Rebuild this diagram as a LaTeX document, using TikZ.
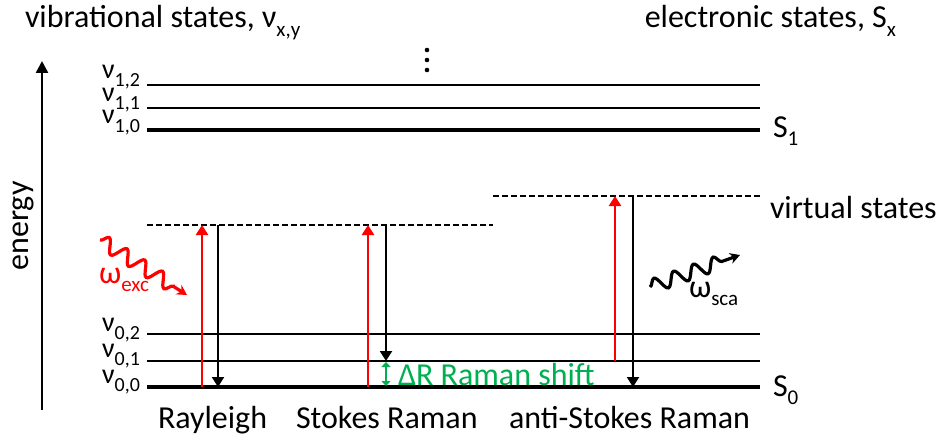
\documentclass[tikz,border=0pt]{standalone}
\usepackage{fontspec}
\setmainfont{Carlito}
\usetikzlibrary{arrows.meta,decorations.pathmorphing}
\definecolor{excred}{RGB}{255,0,0}
\definecolor{shiftgreen}{RGB}{0,176,80}
\newcommand\lo[1]{\raisebox{-0.27em}[0pt][0pt]{\fontsize{21}{22}\selectfont #1}}
\newcommand\lvlsub[1]{\raisebox{-0.3em}[0pt][0pt]{\fontsize{20}{22}\selectfont #1}}
\begin{document}
\begin{tikzpicture}[x=1pt,y=-1pt,
  every node/.style={inner sep=0pt,outer sep=0pt,font=\fontsize{32}{36}\selectfont},
  lvllabel/.style={anchor=base east,font=\fontsize{28}{30}\selectfont},
  lvl/.style={line width=2.2pt},
  lvlthick/.style={line width=3.5pt},
  virt/.style={line width=2pt,dash pattern=on 6pt off 3pt},
  tip/.style={-{Triangle[length=10pt,width=12pt]}},
  up/.style={tip,excred,line width=2.6pt},
  down/.style={tip,black,line width=2.2pt},
  wave/.style={line width=3.2pt,decorate,
     decoration={snake,amplitude=7pt,segment length=21pt,post length=9pt},
     -{Stealth[length=10pt,width=11pt]}}]
\useasboundingbox (0,0) rectangle (943,444);

% level end points
\coordinate (l12a) at (147,85);  \coordinate (l12b) at (760,85);
\coordinate (l11a) at (147,108); \coordinate (l11b) at (760,108);
\coordinate (l10a) at (147,130); \coordinate (l10b) at (760,130);
\coordinate (l02a) at (147,334); \coordinate (l02b) at (760,334);
\coordinate (l01a) at (147,361); \coordinate (l01b) at (760,361);
\coordinate (l00a) at (147,387); \coordinate (l00b) at (760,387);
\coordinate (v1a) at (147,225); \coordinate (v1b) at (493,225);
\coordinate (v2a) at (493,196); \coordinate (v2b) at (760,196);

\draw[lvl] (l12a) -- (l12b);
\draw[lvl] (l11a) -- (l11b);
\draw[lvlthick] (l10a) -- (l10b);
\draw[lvl] (l02a) -- (l02b);
\draw[lvl] (l01a) -- (l01b);
\draw[lvlthick] (l00a) -- (l00b);
\draw[virt] (v1a) -- (v1b);
\draw[virt] (v2a) -- (v2b);

% energy axis
\coordinate (ea) at (42,410); \coordinate (eb) at (42,61);
\draw[line width=2.5pt,-{Triangle[length=12pt,width=12pt]}] (ea) -- (eb);
\node[rotate=90] (energy) at (23,226) {energy};

% dots
\fill (427,50) circle (2.3pt) (427,60) circle (2.3pt) (427,70) circle (2.3pt);

% titles
\node[anchor=base west] (tvib) at (25,28) {vibrational states, ν\lo{x,y}};
\node[anchor=base east] (tel) at (896,28) {electronic states, S\lo{x}};

% level labels
\node[lvllabel] (n12) at (140,78) {ν\lvlsub{1,2}};
\node[lvllabel] (n11) at (140,101) {ν\lvlsub{1,1}};
\node[lvllabel] (n10) at (140,124) {ν\lvlsub{1,0}};
\node[lvllabel] (n02) at (140,331) {ν\lvlsub{0,2}};
\node[lvllabel] (n01) at (140,357) {ν\lvlsub{0,1}};
\node[lvllabel] (n00) at (140,383) {ν\lvlsub{0,0}};
\node[anchor=base west] (s1) at (773,137) {S\lo{1}};
\node[anchor=base west] (s0) at (773,396) {S\lo{0}};
\node[anchor=base west] (virt) at (770,218) {virtual states};

% transitions
\coordinate (ry0) at (202,387); \coordinate (ry1) at (202,225);
\coordinate (rd1) at (218,225); \coordinate (rd0) at (218,387);
\draw[up] (ry0) -- (ry1);
\draw[down] (rd1) -- (rd0);

\coordinate (sy0) at (368,387); \coordinate (sy1) at (368,225);
\coordinate (sd1) at (386,225); \coordinate (sd0) at (386,361);
\draw[up] (sy0) -- (sy1);
\draw[down] (sd1) -- (sd0);

\coordinate (ay0) at (615,361); \coordinate (ay1) at (615,196);
\coordinate (ad1) at (633,196); \coordinate (ad0) at (633,387);
\draw[up] (ay0) -- (ay1);
\draw[down] (ad1) -- (ad0);

% Raman shift
\coordinate (g1) at (386,362); \coordinate (g0) at (386,386);
\draw[shiftgreen,line width=2pt,{Triangle[length=5pt,width=9pt]}-{Triangle[length=5pt,width=9pt]}] (g1) -- (g0);
\node[anchor=base west,text=shiftgreen] (shift) at (398,385) {ΔR Raman shift};

% photons
\coordinate (we0) at (100,240); \coordinate (we1) at (187,295);
\draw[wave,excred] (we0) -- (we1);
\node[anchor=base west,text=excred] (wexc) at (99,283) {ω\lo{exc}};
\coordinate (ws0) at (650,287); \coordinate (ws1) at (740,255);
\draw[wave,black] (ws0) -- (ws1);
\node[anchor=base west] (wsca) at (689,297) {ω\lo{sca}};

% process labels
\node[anchor=base west] (lray) at (158,428) {Rayleigh};
\node[anchor=base west] (lsto) at (296,428) {Stokes Raman};
\node[anchor=base west] (lanti) at (509,428) {anti-Stokes Raman};
\end{tikzpicture}
\end{document}
